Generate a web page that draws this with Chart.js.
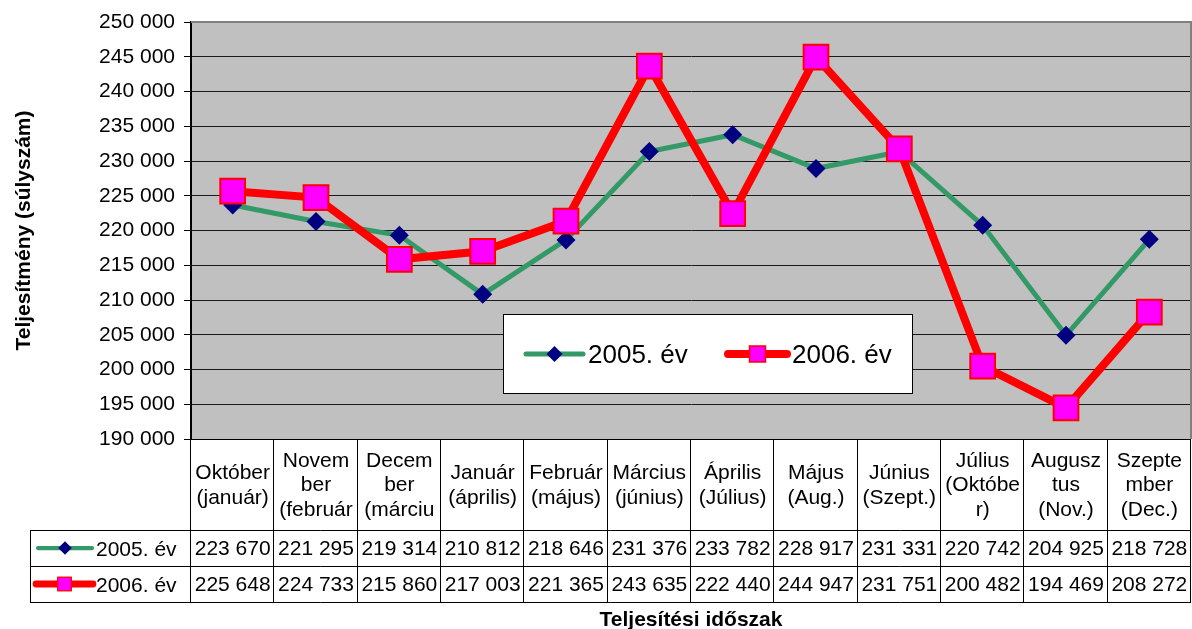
<!DOCTYPE html>
<html>
<head>
<meta charset="utf-8">
<script src="https://cdn.jsdelivr.net/npm/chart.js@4/dist/chart.umd.min.js"></script>
<style>
  html, body { margin: 0; padding: 0; background: #ffffff; }
  canvas { display: block; }
</style>
</head>
<body>
<canvas id="chart" width="1192" height="629"></canvas>
<script>
// Period labels (header cells of the data table, already wrapped per line)
const categories = [
  ['Október', '(január)'],
  ['Novem', 'ber', '(február'],
  ['Decem', 'ber', '(márciu'],
  ['Január', '(április)'],
  ['Február', '(május)'],
  ['Március', '(június)'],
  ['Április', '(Július)'],
  ['Május', '(Aug.)'],
  ['Június', '(Szept.)'],
  ['Július', '(Októbe', 'r)'],
  ['Augusz', 'tus', '(Nov.)'],
  ['Szepte', 'mber', '(Dec.)']
];

const series2005Label = '2005. év';
const series2006Label = '2006. év';

const values2005 = [223670, 221295, 219314, 210812, 218646, 231376, 233782, 228917, 231331, 220742, 204925, 218728];
const values2006 = [225648, 224733, 215860, 217003, 221365, 243635, 222440, 244947, 231751, 200482, 194469, 208272];

const yMin = 190000;
const yMax = 250000;
const yStep = 5000;

const yTitle = 'Teljesítmény (súlyszám)';
const xTitle = 'Teljesítési időszak';

const FONT = '"Liberation Sans", Arial, sans-serif';
const GREEN = '#339966';
const NAVY = '#000080';
const RED = '#FF0000';
const MAGENTA = '#FF00FF';

function fmt(v) {
  return String(v).replace(/\B(?=(\d{3})+(?!\d))/g, ' ');
}

// Series key glyphs used in the floating legend and the table rows
function drawKey(ctx, which, x0, x1, y, scale) {
  ctx.save();
  ctx.lineCap = 'round';
  const cx = (x0 + x1) / 2;
  if (which === 0) {
    ctx.strokeStyle = GREEN;
    ctx.lineWidth = 5 * scale;
    ctx.beginPath(); ctx.moveTo(x0, y); ctx.lineTo(x1, y); ctx.stroke();
    const r = 8 * scale;
    ctx.fillStyle = NAVY;
    ctx.beginPath();
    ctx.moveTo(cx, y - r); ctx.lineTo(cx + r, y); ctx.lineTo(cx, y + r); ctx.lineTo(cx - r, y);
    ctx.closePath(); ctx.fill();
  } else {
    ctx.strokeStyle = RED;
    ctx.lineWidth = 8 * scale;
    ctx.beginPath(); ctx.moveTo(x0, y); ctx.lineTo(x1, y); ctx.stroke();
    const h = 8 * scale;
    ctx.fillStyle = MAGENTA;
    ctx.fillRect(cx - h, y - h, 2 * h, 2 * h);
    ctx.strokeStyle = RED;
    ctx.lineWidth = 1.5 * scale;
    ctx.strokeRect(cx - h, y - h, 2 * h, 2 * h);
  }
  ctx.restore();
}

// Plot background and grey frame
const plotFrame = {
  id: 'plotFrame',
  beforeDraw(chart) {
    const { ctx, chartArea: a } = chart;
    ctx.save();
    ctx.fillStyle = '#ffffff';
    ctx.fillRect(0, 0, chart.width, chart.height);
    ctx.fillStyle = '#C0C0C0';
    ctx.fillRect(a.left, a.top, a.right - a.left, a.bottom - a.top);
    ctx.restore();
  },
  beforeDatasetsDraw(chart) {
    const { ctx, chartArea: a } = chart;
    ctx.save();
    ctx.strokeStyle = '#808080';
    ctx.lineWidth = 2;
    ctx.beginPath();
    ctx.moveTo(a.left, a.top);
    ctx.lineTo(a.right, a.top);
    ctx.lineTo(a.right, a.bottom);
    ctx.stroke();
    ctx.restore();
  }
};

// Data table under the plot, x-axis title and the floating legend
const dataTable = {
  id: 'dataTable',
  afterDraw(chart) {
    const { ctx, chartArea: a } = chart;
    const xs = chart.scales.x;
    const n = categories.length;
    const colW = (a.right - a.left) / n;
    const headTop = a.bottom;
    const headBot = headTop + 91;
    const rowH = 36;
    const row1 = headBot, row2 = headBot + rowH, tableBot = headBot + 2 * rowH;
    const keyLeft = 30;

    ctx.save();
    ctx.strokeStyle = '#000000';
    ctx.lineWidth = 1;
    ctx.beginPath();
    // horizontal rules
    ctx.moveTo(a.left, headTop + 0.5); ctx.lineTo(a.right, headTop + 0.5);
    [row1, row2, tableBot].forEach(y => {
      ctx.moveTo(keyLeft, y + 0.5); ctx.lineTo(a.right, y + 0.5);
    });
    // vertical rules
    ctx.moveTo(keyLeft + 0.5, row1); ctx.lineTo(keyLeft + 0.5, tableBot);
    for (let i = 0; i <= n; i++) {
      const x = Math.round(a.left + i * colW) - 0.5;
      ctx.moveTo(x, headTop); ctx.lineTo(x, tableBot);
    }
    ctx.stroke();

    ctx.fillStyle = '#000000';
    ctx.font = '21px ' + FONT;
    ctx.textAlign = 'center';
    ctx.textBaseline = 'middle';
    const lh = 24.5;
    const headMid = (headTop + headBot) / 2;
    categories.forEach((lines, i) => {
      const cx = xs.getPixelForValue(i);
      const y0 = headMid - (lines.length - 1) * lh / 2;
      lines.forEach((t, k) => ctx.fillText(t, cx, y0 + k * lh + 1));
      ctx.fillText(fmt(values2005[i]), cx, row1 + rowH / 2 + 1);
      ctx.fillText(fmt(values2006[i]), cx, row2 + rowH / 2 + 1);
    });

    // row keys
    drawKey(ctx, 0, 38, 92, row1 + rowH / 2, 0.85);
    drawKey(ctx, 1, 36, 93, row2 + rowH / 2, 0.85);
    ctx.textAlign = 'left';
    ctx.fillStyle = '#000000';
    ctx.fillText(series2005Label, 96, row1 + rowH / 2 + 2);
    ctx.fillText(series2006Label, 96, row2 + rowH / 2 + 2);

    // x-axis title
    ctx.font = 'bold 21px ' + FONT;
    ctx.textAlign = 'center';
    ctx.fillText(xTitle, (a.left + a.right) / 2, 620);

    // floating legend
    const lx = 503, ly = 314, lw = 409, lhgt = 79;
    ctx.fillStyle = '#ffffff';
    ctx.fillRect(lx, ly, lw, lhgt);
    ctx.strokeStyle = '#000000';
    ctx.lineWidth = 1;
    ctx.strokeRect(lx + 0.5, ly + 0.5, lw, lhgt);
    const my = ly + 40;
    drawKey(ctx, 0, 526, 583, my, 1);
    drawKey(ctx, 1, 728, 787, my, 1);
    ctx.fillStyle = '#000000';
    ctx.font = '26px ' + FONT;
    ctx.textAlign = 'left';
    ctx.fillText(series2005Label, 588, my + 2);
    ctx.fillText(series2006Label, 792, my + 2);
    ctx.restore();
  }
};

new Chart(document.getElementById('chart'), {
  type: 'line',
  data: {
    labels: categories.map(c => c.join(' ')),
    datasets: [
      {
        label: series2005Label,
        data: values2005,
        borderColor: GREEN,
        borderWidth: 5,
        backgroundColor: NAVY,
        pointStyle: 'rectRot',
        pointRadius: 9.5,
        pointBorderWidth: 0,
        pointBorderColor: NAVY,
        pointBackgroundColor: NAVY,
        tension: 0,
        order: 1
      },
      {
        label: series2006Label,
        data: values2006,
        borderColor: RED,
        borderWidth: 8,
        backgroundColor: MAGENTA,
        pointStyle: 'rect',
        pointRadius: 17.5,
        pointBorderWidth: 2,
        pointBorderColor: RED,
        pointBackgroundColor: MAGENTA,
        tension: 0,
        order: 0
      }
    ]
  },
  options: {
    responsive: false,
    animation: false,
    events: [],
    clip: false,
    layout: { autoPadding: false, padding: { left: 0, top: 22, right: 1, bottom: 190 } },
    plugins: {
      legend: { display: false },
      tooltip: { enabled: false },
      title: { display: false }
    },
    scales: {
      x: {
        type: 'category',
        offset: true,
        display: false
      },
      y: {
        min: yMin,
        max: yMax,
        afterFit(scale) { scale.width = 191; },
        ticks: {
          stepSize: yStep,
          color: '#000000',
          padding: 9,
          font: { family: FONT, size: 21 },
          callback: v => fmt(v)
        },
        grid: {
          color: c => (c.tick && c.tick.value === yMax) ? '#808080' : '#1a1a1a',
          lineWidth: 1,
          tickLength: 7,
          tickColor: '#000000'
        },
        border: { display: true, color: '#000000', width: 2 },
        title: {
          display: true,
          text: yTitle,
          color: '#000000',
          font: { family: FONT, size: 21, weight: 'bold' },
          padding: { top: 12, bottom: 0 }
        }
      }
    }
  },
  plugins: [plotFrame, dataTable]
});
</script>
</body>
</html>
